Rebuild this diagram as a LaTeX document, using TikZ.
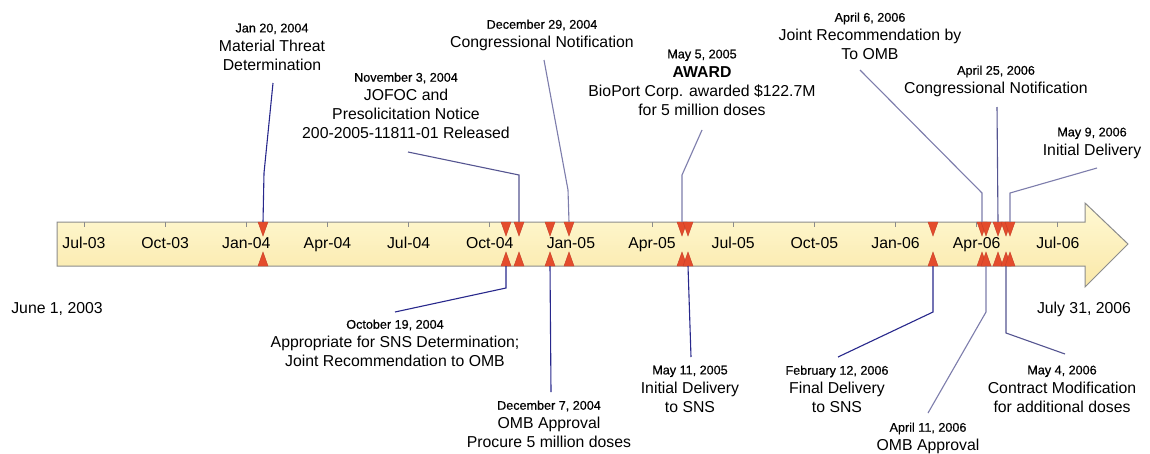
\documentclass[tikz,border=0pt]{standalone}
\usepackage{fontspec}
\setmainfont{Liberation Sans}
\newfontfamily\datefam{Liberation Sans}[FakeBold=0.5]
\definecolor{barTop}{RGB}{255,249,212}
\definecolor{barBot}{RGB}{250,232,168}
\definecolor{barLine}{RGB}{140,140,140}
\definecolor{mkFill}{RGB}{228,76,44}
\definecolor{mkLine}{RGB}{196,62,40}
\definecolor{cDk}{RGB}{40,40,140}
\definecolor{cMd}{RGB}{85,85,145}
\definecolor{cLt}{RGB}{125,125,172}
\newcommand\evdate[1]{{\datefam\fontsize{12.6}{19}\selectfont #1}}
\begin{document}
\begin{tikzpicture}[x=1pt,y=-1pt,
  lbl/.style={align=center,inner sep=0pt,anchor=north,font=\fontsize{15.8}{19}\selectfont},
  one/.style={inner sep=0pt,anchor=base,font=\fontsize{15.8}{19}\selectfont},
  mk/.style={fill=mkFill,draw=mkLine,line width=0.4},
  tickmark/.style={draw=barLine,line width=0.8},
  dk/.style={draw=cDk,line width=1.1},
  md/.style={draw=cMd,line width=1.1},
  lt/.style={draw=cLt,line width=1.1}]
\useasboundingbox (0,0) rectangle (1150,453);
\fill[white] (0,0) rectangle (1150,453);

% timeline arrow
\path[draw=barLine,line width=1,top color=barTop,bottom color=barBot]
  (57,222) -- (1085,222) -- (1085,203) -- (1128,244) -- (1085,287) -- (1085,266) -- (57,266) -- cycle;

% ticks and tick labels
\foreach \i/\t in {0/Jul-03,1/Oct-03,2/Jan-04,3/Apr-04,4/Jul-04,5/Oct-04,6/Jan-05,7/Apr-05,8/Jul-05,9/Oct-05,10/Jan-06,11/Apr-06,12/Jul-06}{
  \pgfmathsetmacro\xx{84+81.15*\i}
  \draw[tickmark] (\xx,222) -- (\xx,227);
  \node[one] (tk\i) at (\xx,248.6) {\t};
}

% markers
\foreach \x in {263,506,519,550,569,682,688,933,982,986,998,1006,1010}{
  \path[mk] (\x-5,222) -- (\x+5,222) -- (\x,236) -- cycle;
  \path[mk] (\x-5,266) -- (\x+5,266) -- (\x,252) -- cycle;
}

% marker attachment points
\coordinate (tJan) at (263,222);
\coordinate (tNov) at (519,222);
\coordinate (tDec) at (569,222);
\coordinate (tMay5) at (682,222);
\coordinate (tApr6) at (982,222);
\coordinate (tApr25) at (998,222);
\coordinate (tMay9) at (1010,222);
\coordinate (bOct) at (506,266);
\coordinate (bDec7) at (550,266);
\coordinate (bMay11) at (688,266);
\coordinate (bFeb) at (933,266);
\coordinate (bApr11) at (986,266);
\coordinate (bMay4) at (1006,266);

% bends and free ends
\coordinate (sJan) at (273,83);   \coordinate (kJan) at (264,173);
\coordinate (sNov) at (408,152);  \coordinate (kNov) at (519,175);
\coordinate (sDec) at (544,60);   \coordinate (kDec) at (568,190);
\coordinate (sMay5) at (702,130); \coordinate (kMay5) at (682,175);
\coordinate (sApr6) at (860,70);  \coordinate (kApr6) at (982,193);
\coordinate (sApr25) at (997,107);
\coordinate (sMay9) at (1097,168); \coordinate (kMay9) at (1010,193);
\coordinate (kOct) at (506,288);  \coordinate (eOct) at (395,312);
\coordinate (eDec7) at (551,392);
\coordinate (eMay11) at (691,357);
\coordinate (kFeb) at (933,312);  \coordinate (eFeb) at (838,357);
\coordinate (kApr11) at (986,312); \coordinate (eApr11) at (928,413);
\coordinate (kMay4) at (1006,333); \coordinate (eMay4) at (1065,354);

% connectors
\draw[dk] (sJan) -- (kJan) -- (tJan);
\draw[md] (sNov) -- (kNov) -- (tNov);
\draw[lt] (sDec) -- (kDec) -- (tDec);
\draw[lt] (sMay5) -- (kMay5) -- (tMay5);
\draw[lt] (sApr6) -- (kApr6) -- (tApr6);
\draw[md] (sApr25) -- (tApr25);
\draw[lt] (sMay9) -- (kMay9) -- (tMay9);
\draw[dk] (bOct) -- (kOct) -- (eOct);
\draw[dk] (bDec7) -- (eDec7);
\draw[dk] (bMay11) -- (eMay11);
\draw[dk] (bFeb) -- (kFeb) -- (eFeb);
\draw[lt] (bApr11) -- (kApr11) -- (eApr11);
\draw[md] (bMay4) -- (kMay4) -- (eMay4);

% top labels
\node[lbl] (lJan) at (272,23.4) {\evdate{Jan 20, 2004}\\Material Threat\\Determination};
\node[lbl] (lNov) at (406,72.4) {\evdate{November 3, 2004}\\JOFOC and\\Presolicitation Notice\\200-2005-11811-01 Released};
\node[lbl] (lDec) at (542,19.4) {\evdate{December 29, 2004}\\Congressional Notification};
\node[lbl] (lMay5) at (702,49.4) {\evdate{May 5, 2005}\\\textbf{AWARD}\\BioPort Corp. awarded \$122.7M\\for 5 million doses};
\node[lbl] (lApr6) at (870,12.4) {\evdate{April 6, 2006}\\Joint Recommendation by\\To OMB};
\node[lbl] (lApr25) at (996,65.4) {\evdate{April 25, 2006}\\Congressional Notification};
\node[lbl] (lMay9) at (1092,127.4) {\evdate{May 9, 2006}\\Initial Delivery};

% bottom labels
\node[lbl] (lOct) at (395,319.4) {\evdate{October 19, 2004}\\Appropriate for SNS Determination;\\Joint Recommendation to OMB};
\node[lbl] (lDec7) at (549,400.4) {\evdate{December 7, 2004}\\OMB Approval\\Procure 5 million doses};
\node[lbl] (lMay11) at (690,365.4) {\evdate{May 11, 2005}\\Initial Delivery\\to SNS};
\node[lbl] (lFeb) at (837,365.4) {\evdate{February 12, 2006}\\Final Delivery\\to SNS};
\node[lbl] (lApr11) at (928,422.4) {\evdate{April 11, 2006}\\OMB Approval};
\node[lbl] (lMay4) at (1062,365.4) {\evdate{May 4, 2006}\\Contract Modification\\for additional doses};

% range ends
\node[one] (start) at (57,313.7) {June 1, 2003};
\node[one] (end) at (1084,313.7) {July 31, 2006};
\end{tikzpicture}
\end{document}
